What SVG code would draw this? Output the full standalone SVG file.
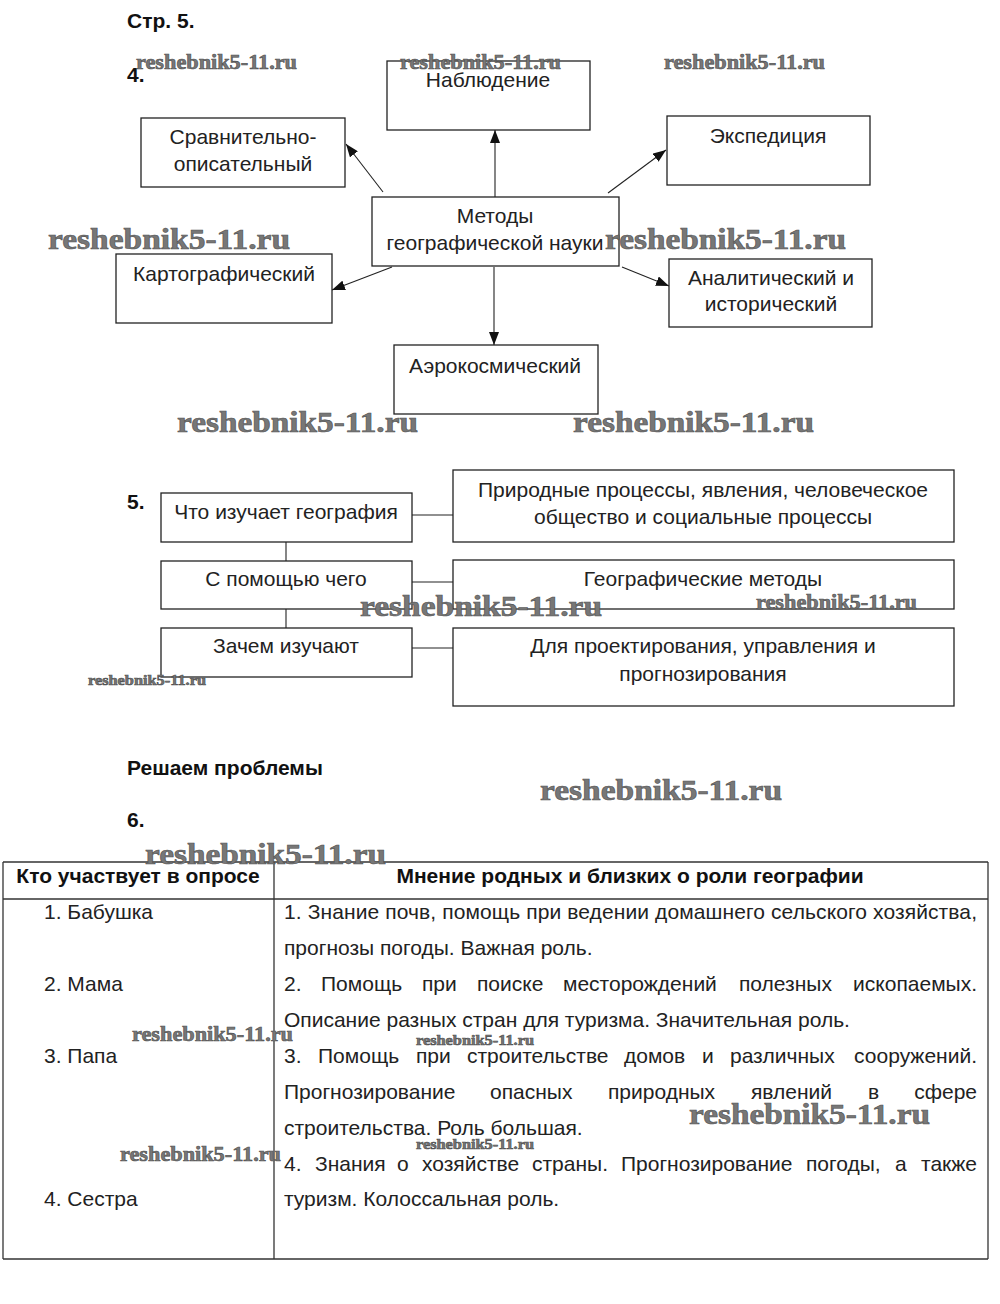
<svg xmlns="http://www.w3.org/2000/svg" width="1000" height="1304" viewBox="0 0 1000 1304">
<style>
.t{font-family:"Liberation Sans",Arial,sans-serif;font-size:21px;fill:#222}
.c{text-anchor:middle}
.e{text-anchor:end}
.b{font-weight:bold;fill:#111}
.box{fill:none;stroke:#222;stroke-width:1.3}
.ln{stroke:#222;stroke-width:1.1;fill:none}
.tb{stroke:#333;stroke-width:1.3;fill:none}
.wm{font-family:"Liberation Serif","Times New Roman",serif;font-weight:bold;fill:#777;stroke:#505050;stroke-width:0.6}
</style>
<defs>
<marker id="ah" viewBox="0 0 13 10" refX="13" refY="5" markerWidth="13" markerHeight="10" markerUnits="userSpaceOnUse" orient="auto">
<path d="M0,0 L13,5 L0,10 z" fill="#111"/>
</marker>
</defs>
<rect width="1000" height="1304" fill="#fff"/>

<text class="t b" x="127" y="28" font-size="18.5">Стр. 5.</text>
<text class="t b" x="127" y="82" font-size="18.5">4.</text>

<g id="connectors">
<line class="ln" x1="383" y1="192" x2="346" y2="144" marker-end="url(#ah)"/>
<line class="ln" x1="495" y1="197" x2="495" y2="130" marker-end="url(#ah)"/>
<line class="ln" x1="608" y1="193" x2="666" y2="150" marker-end="url(#ah)"/>
<line class="ln" x1="392" y1="267" x2="332" y2="290" marker-end="url(#ah)"/>
<line class="ln" x1="622" y1="267" x2="669" y2="286" marker-end="url(#ah)"/>
<line class="ln" x1="494" y1="267" x2="494" y2="345" marker-end="url(#ah)"/>
<line class="ln" x1="412" y1="515" x2="453" y2="515"/>
<line class="ln" x1="412" y1="582" x2="453" y2="582"/>
<line class="ln" x1="412" y1="648" x2="453" y2="648"/>
<line class="ln" x1="286" y1="542" x2="286" y2="561"/>
<line class="ln" x1="286" y1="609" x2="286" y2="628"/>
</g>

<g id="n-nabl"><rect class="box" x="387" y="61" width="203" height="69"/><text class="t c" x="488" y="87">Наблюдение</text></g>
<g id="n-sravn"><rect class="box" x="141" y="118" width="204" height="69"/><text class="t c" x="243" y="144">Сравнительно-</text><text class="t c" x="243" y="171">описательный</text></g>
<g id="n-exp"><rect class="box" x="667" y="116" width="203" height="69"/><text class="t c" x="768" y="143">Экспедиция</text></g>
<g id="n-metody"><rect class="box" x="372" y="197" width="247" height="69"/><text class="t c" x="495" y="223">Методы</text><text class="t c" x="495" y="250">географической науки</text></g>
<g id="n-kart"><rect class="box" x="116" y="254" width="216" height="69"/><text class="t c" x="224" y="281">Картографический</text></g>
<g id="n-anal"><rect class="box" x="669" y="259" width="203" height="68"/><text class="t c" x="771" y="285">Аналитический и</text><text class="t c" x="771" y="311">исторический</text></g>
<g id="n-aero"><rect class="box" x="394" y="345" width="204" height="69"/><text class="t c" x="495" y="373">Аэрокосмический</text></g>

<text class="t b" x="127" y="509" font-size="18.5">5.</text>
<g id="n-chto"><rect class="box" x="161" y="493" width="251" height="49"/><text class="t c" x="286" y="519">Что изучает география</text></g>
<g id="n-pomosh"><rect class="box" x="161" y="561" width="251" height="48"/><text class="t c" x="286" y="586">С помощью чего</text></g>
<g id="n-zachem"><rect class="box" x="161" y="628" width="251" height="49"/><text class="t c" x="286" y="653">Зачем изучают</text></g>
<g id="n-prir"><rect class="box" x="453" y="470" width="501" height="72"/><text class="t c" x="703" y="497">Природные процессы, явления, человеческое</text><text class="t c" x="703" y="524">общество и социальные процессы</text></g>
<g id="n-geom"><rect class="box" x="453" y="560" width="501" height="49"/><text class="t c" x="703" y="586">Географические методы</text></g>
<g id="n-dlya"><rect class="box" x="453" y="628" width="501" height="78"/><text class="t c" x="703" y="653">Для проектирования, управления и</text><text class="t c" x="703" y="681">прогнозирования</text></g>

<text class="t b" x="127" y="775" font-size="18.5">Решаем проблемы</text>
<text class="t b" x="127" y="827" font-size="18.5">6.</text>

<g id="table">
<line class="tb" x1="3" y1="862" x2="988" y2="862"/>
<line class="tb" x1="3" y1="899" x2="988" y2="899"/>
<line class="tb" x1="3" y1="1259" x2="988" y2="1259"/>
<line class="tb" x1="3" y1="862" x2="3" y2="1259"/>
<line class="tb" x1="988" y1="862" x2="988" y2="1259"/>
<line class="tb" x1="274" y1="862" x2="274" y2="1259"/>
<text class="t b c" x="138" y="883" font-size="20">Кто участвует в опросе</text>
<text class="t b c" x="630" y="883" font-size="20">Мнение родных и близких о роли географии</text>
<text class="t" x="44" y="919">1. Бабушка</text>
<text class="t" x="44" y="991">2. Мама</text>
<text class="t" x="44" y="1063">3. Папа</text>
<text class="t" x="44" y="1206">4. Сестра</text>
<text class="t" x="284" y="919" textLength="693" lengthAdjust="spacing">1. Знание почв, помощь при ведении домашнего сельского хозяйства,</text>
<text class="t" x="284" y="955">прогнозы погоды. Важная роль.</text>
<text class="t" y="991"><tspan x="284">2.</tspan><tspan x="321">Помощь</tspan><tspan x="422">при</tspan><tspan x="477">поиске</tspan><tspan x="563">месторождений</tspan><tspan x="739">полезных</tspan></text>
<text class="t e" x="977" y="991">ископаемых.</text>
<text class="t" x="284" y="1027">Описание разных стран для туризма. Значительная роль.</text>
<text class="t" y="1063"><tspan x="284">3.</tspan><tspan x="318">Помощь</tspan><tspan x="416">при</tspan><tspan x="467">строительстве</tspan><tspan x="624">домов</tspan><tspan x="702">и</tspan><tspan x="730">различных</tspan></text>
<text class="t e" x="977" y="1063">сооружений.</text>
<text class="t" y="1099"><tspan x="284">Прогнозирование</tspan><tspan x="490">опасных</tspan><tspan x="608">природных</tspan><tspan x="751">явлений</tspan><tspan x="868">в</tspan></text>
<text class="t e" x="977" y="1099">сфере</text>
<text class="t" x="284" y="1135">строительства. Роль большая.</text>
<text class="t" y="1171"><tspan x="284">4.</tspan><tspan x="315">Знания</tspan><tspan x="397">о</tspan><tspan x="422">хозяйстве</tspan><tspan x="532">страны.</tspan><tspan x="621">Прогнозирование</tspan><tspan x="806">погоды,</tspan><tspan x="895">а</tspan></text>
<text class="t e" x="977" y="1171">также</text>
<text class="t" x="284" y="1206">туризм. Колоссальная роль.</text>
</g>

<g id="watermarks">
<text class="wm" x="136" y="69" font-size="20" textLength="161" lengthAdjust="spacingAndGlyphs">reshebnik5-11.ru</text>
<text class="wm" x="400" y="69" font-size="20" textLength="161" lengthAdjust="spacingAndGlyphs">reshebnik5-11.ru</text>
<text class="wm" x="664" y="69" font-size="20" textLength="161" lengthAdjust="spacingAndGlyphs">reshebnik5-11.ru</text>
<text class="wm" x="48" y="249" font-size="30" textLength="242" lengthAdjust="spacingAndGlyphs">reshebnik5-11.ru</text>
<text class="wm" x="605" y="249" font-size="30" textLength="241" lengthAdjust="spacingAndGlyphs">reshebnik5-11.ru</text>
<text class="wm" x="177" y="432" font-size="30" textLength="241" lengthAdjust="spacingAndGlyphs">reshebnik5-11.ru</text>
<text class="wm" x="573" y="432" font-size="30" textLength="241" lengthAdjust="spacingAndGlyphs">reshebnik5-11.ru</text>
<text class="wm" x="360" y="616" font-size="30" textLength="242" lengthAdjust="spacingAndGlyphs">reshebnik5-11.ru</text>
<text class="wm" x="756" y="609" font-size="20" textLength="161" lengthAdjust="spacingAndGlyphs">reshebnik5-11.ru</text>
<text class="wm" x="88" y="685" font-size="14" textLength="118" lengthAdjust="spacingAndGlyphs">reshebnik5-11.ru</text>
<text class="wm" x="540" y="800" font-size="30" textLength="242" lengthAdjust="spacingAndGlyphs">reshebnik5-11.ru</text>
<text class="wm" x="145" y="864" font-size="30" textLength="241" lengthAdjust="spacingAndGlyphs">reshebnik5-11.ru</text>
<text class="wm" x="132" y="1041" font-size="20" textLength="161" lengthAdjust="spacingAndGlyphs">reshebnik5-11.ru</text>
<text class="wm" x="416" y="1045" font-size="14" textLength="118" lengthAdjust="spacingAndGlyphs">reshebnik5-11.ru</text>
<text class="wm" x="689" y="1124" font-size="30" textLength="241" lengthAdjust="spacingAndGlyphs">reshebnik5-11.ru</text>
<text class="wm" x="416" y="1149" font-size="14" textLength="118" lengthAdjust="spacingAndGlyphs">reshebnik5-11.ru</text>
<text class="wm" x="120" y="1161" font-size="20" textLength="161" lengthAdjust="spacingAndGlyphs">reshebnik5-11.ru</text>
</g>
</svg>
